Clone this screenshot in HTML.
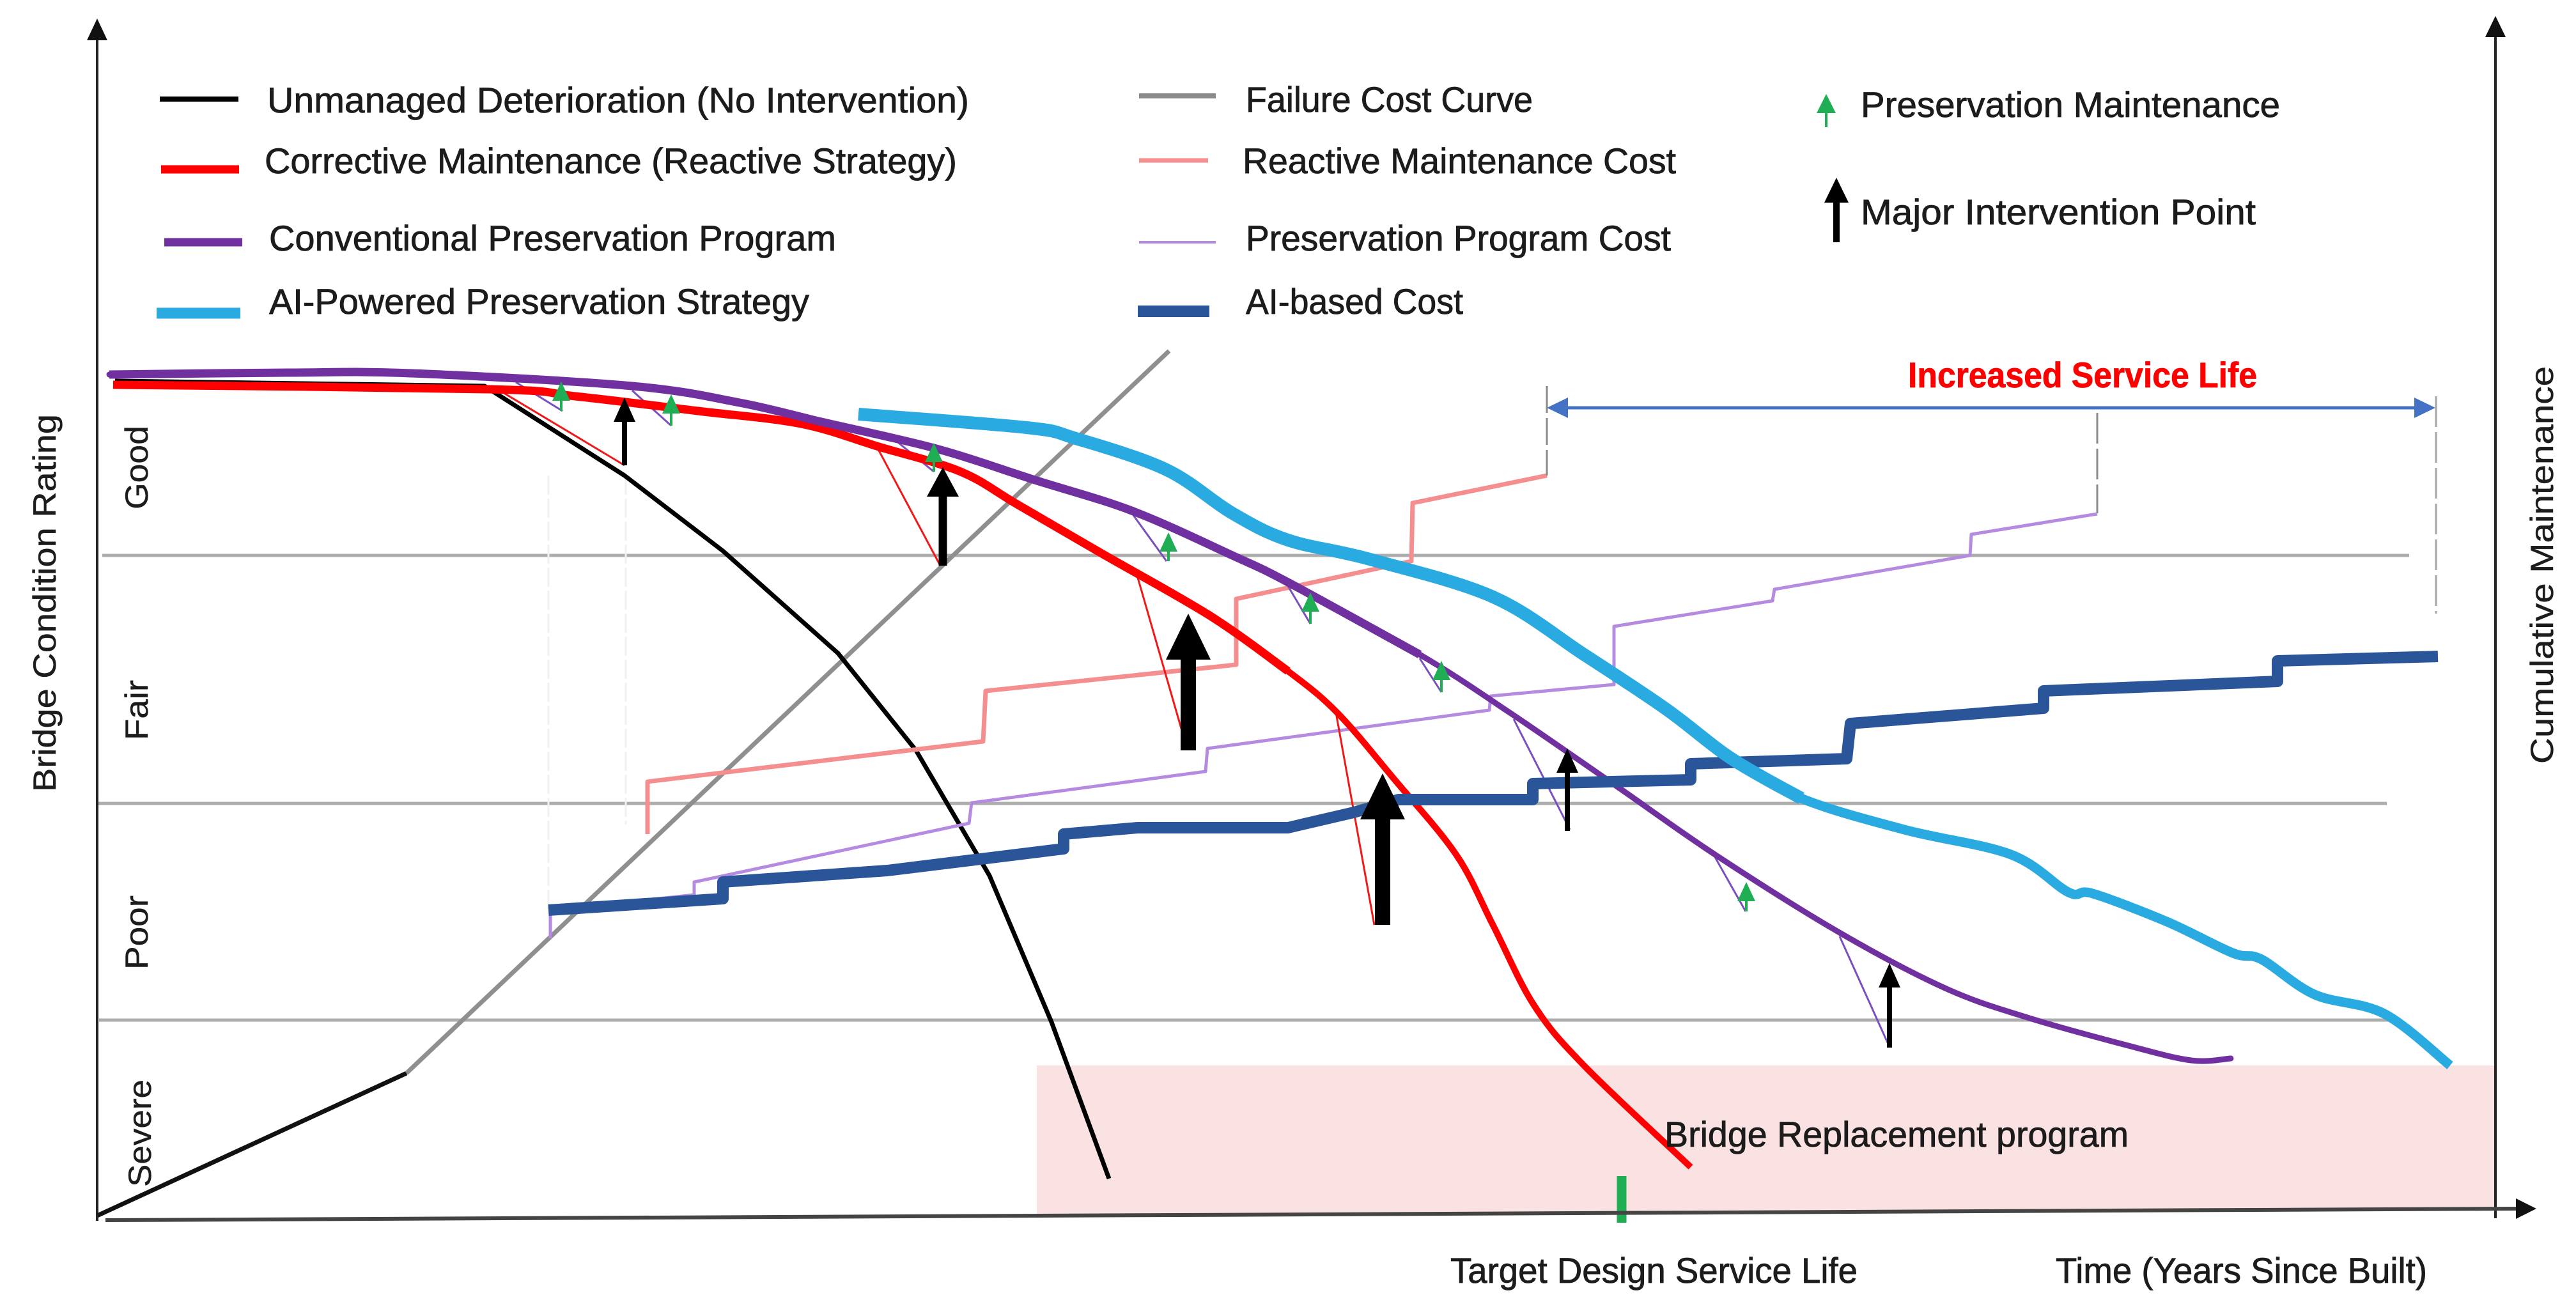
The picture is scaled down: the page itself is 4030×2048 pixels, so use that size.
<!DOCTYPE html>
<html lang="en">
<head>
<meta charset="utf-8">
<title>Bridge condition and cumulative maintenance over time</title>
<style>
  html, body { margin: 0; padding: 0; background: #fff; }
  svg { display: block; }
  text { font-family: "Liberation Sans", sans-serif; fill: #1c1c1c; stroke: #1c1c1c; stroke-width: 0.8px; font-size: 56px; }
  text.rotated { font-size: 50px; stroke-width: 0.4px; }
</style>
</head>
<body>
<svg id="chart" xmlns="http://www.w3.org/2000/svg" width="4030" height="2048" viewBox="0 0 4030 2048">
  <rect x="0" y="0" width="4030" height="2048" fill="#ffffff"/>
  <g id="marks"></g>

  <g>
    <line x1="152" y1="50" x2="152" y2="1910" stroke="#222" stroke-width="4"/>
    <polygon points="152,29 136,63 168,63" fill="#111"/>
    <line x1="3904" y1="50" x2="3904" y2="1906" stroke="#222" stroke-width="4"/>
    <polygon points="3904,25 3888,58 3920,58" fill="#111"/>
    <line x1="165" y1="1909" x2="3940" y2="1891" stroke="#444" stroke-width="6"/>
    <polygon points="3968,1891 3936,1875 3936,1907" fill="#111"/>
  </g>

  <g>
    <g>
      <line x1="250" y1="155" x2="373" y2="155" stroke="#000" stroke-width="8"/>
      <text x="418" y="176" textLength="1098" lengthAdjust="spacingAndGlyphs">Unmanaged Deterioration (No Intervention)</text>
    </g>
    <g>
      <line x1="252" y1="265" x2="374" y2="265" stroke="#ff0000" stroke-width="13"/>
      <text x="414" y="271" textLength="1083" lengthAdjust="spacingAndGlyphs">Corrective Maintenance (Reactive Strategy)</text>
    </g>
    <g>
      <line x1="257" y1="379" x2="379" y2="379" stroke="#7030a0" stroke-width="13"/>
      <text x="421" y="392" textLength="887" lengthAdjust="spacingAndGlyphs">Conventional Preservation Program</text>
    </g>
    <g>
      <line x1="245" y1="490" x2="376" y2="490" stroke="#29abe2" stroke-width="17"/>
      <text x="421" y="491" textLength="845" lengthAdjust="spacingAndGlyphs">AI-Powered Preservation Strategy</text>
    </g>
    <g>
      <line x1="1782" y1="150" x2="1902" y2="150" stroke="#8c8c8c" stroke-width="8"/>
      <text x="1949" y="175" textLength="449" lengthAdjust="spacingAndGlyphs">Failure Cost Curve</text>
    </g>
    <g>
      <line x1="1782" y1="251" x2="1890" y2="251" stroke="#f58e8e" stroke-width="7"/>
      <text x="1944" y="271" textLength="678" lengthAdjust="spacingAndGlyphs">Reactive Maintenance Cost</text>
    </g>
    <g>
      <line x1="1782" y1="379" x2="1902" y2="379" stroke="#b48be0" stroke-width="4"/>
      <text x="1949" y="392" textLength="665" lengthAdjust="spacingAndGlyphs">Preservation Program Cost</text>
    </g>
    <g>
      <line x1="1780" y1="487" x2="1892" y2="487" stroke="#2a5599" stroke-width="18"/>
      <text x="1949" y="491" textLength="340" lengthAdjust="spacingAndGlyphs">AI-based Cost</text>
    </g>
    <g>
      <polygon points="2857,147 2872,177 2859,177 2859,199 2855,199 2855,177 2842,177" fill="#1fae54"/>
      <text x="2911" y="183" textLength="656" lengthAdjust="spacingAndGlyphs">Preservation Maintenance</text>
    </g>
    <g>
      <polygon points="2873,278 2892,317 2878,317 2878,379 2868,379 2868,317 2854,317" fill="#000"/>
      <text x="2911" y="351" textLength="618" lengthAdjust="spacingAndGlyphs">Major Intervention Point</text>
    </g>
  </g>

  <g>
    <line x1="2420" y1="604" x2="2420" y2="744" stroke="#8a8a8a" stroke-width="3" stroke-dasharray="42 8"/>
    <line x1="3281" y1="646" x2="3281" y2="803" stroke="#8a8a8a" stroke-width="3" stroke-dasharray="48 8"/>
    <line x1="3811" y1="620" x2="3811" y2="960" stroke="#a5a5a5" stroke-width="3" stroke-dasharray="48 8"/>
    <line x1="2440" y1="638" x2="3790" y2="638" stroke="#4472c4" stroke-width="5"/>
    <polygon points="2420,638 2453,622 2453,654" fill="#4472c4"/>
    <polygon points="3810,638 3777,622 3777,654" fill="#4472c4"/>
    <text x="2985" y="606" textLength="546" lengthAdjust="spacingAndGlyphs" font-weight="700" style="fill:#ff0000;stroke:#ff0000">Increased Service Life</text>
  </g>

  <g>
    <text class="rotated" transform="translate(87,1239) rotate(-90)" textLength="591" lengthAdjust="spacingAndGlyphs">Bridge Condition Rating</text>
    <text class="rotated" transform="translate(3994,1195) rotate(-90)" textLength="622" lengthAdjust="spacingAndGlyphs">Cumulative Maintenance</text>
    <text class="rotated" transform="translate(231,797) rotate(-90)" textLength="131" lengthAdjust="spacingAndGlyphs">Good</text>
    <text class="rotated" transform="translate(231,1158) rotate(-90)" textLength="94" lengthAdjust="spacingAndGlyphs">Fair</text>
    <text class="rotated" transform="translate(231,1517) rotate(-90)" textLength="116" lengthAdjust="spacingAndGlyphs">Poor</text>
    <text class="rotated" transform="translate(236,1857) rotate(-90)" textLength="168" lengthAdjust="spacingAndGlyphs">Severe</text>
    <text x="2269" y="2007" textLength="637" lengthAdjust="spacingAndGlyphs">Target Design Service Life</text>
    <text x="3216" y="2007" textLength="581" lengthAdjust="spacingAndGlyphs">Time (Years Since Built)</text>
    <text x="2604" y="1794" textLength="726" lengthAdjust="spacingAndGlyphs">Bridge Replacement program</text>
  </g>
</svg>

<script>
// Schematic axes: time index along the x axis, rating / cost index along the y axis.
// Every series is a list of [time, value] readings.
const conditionBandLines = [[1, 104.1, 361.9], [0.2, 65.3, 358.4], [0.5, 31.4, 358.7]];
const replacementZone = [[147.2, 24.3], [375.4, 24.3], [375.4, 1.8], [147.2, 0.8]];
const targetDesignLife = [238.7, 7, -0.3];
const paleGuides = [[70.8, 116.6, 48], [82.9, 116.6, 62]];

const unmanaged = [[3, 131.4], [60.8, 130.6], [82.7, 116.6], [98.1, 104.8], [116.1, 88.8], [128.3, 73.6], [139.8, 54], [149.5, 31.1], [158.5, 6.6]];
const failureCostEarly = [[0.2, 0.8], [48.6, 23.1]];
const failureCostLate = [[48.6, 23.1], [167.9, 136.1]];
const corrective = [[2.7, 130.8], [61.5, 130.1], [75, 129], [94.2, 126.7], [110.3, 124.7], [122.5, 121.1], [135.3, 117.2], [144.3, 112], [157.2, 104.5], [174.4, 94.6], [186.5, 86], [194.2, 79.5], [203.2, 69], [212.8, 57.3], [218.6, 46.2], [225, 33.7], [232.8, 24.3], [249.5, 8.4]];
const conventional = [[2.1, 132.4], [30, 132.7], [49.3, 132.6], [83.9, 130.6], [100.7, 128], [113.5, 125], [131.5, 120.8], [146.9, 115.9], [162.3, 111], [177.8, 104.1], [186.5, 99.9], [207.1, 88.6], [221.2, 79.5], [237.9, 68], [253.3, 57.3], [272.6, 45.2], [289.3, 36.4], [302.2, 31.8], [317.6, 27.5], [327.8, 25.1], [334, 25.4]];
const aiPowered = [[119.3, 126.2], [145.6, 124.1], [153.3, 122.4], [167.5, 117.5], [177.8, 110.7], [186.5, 106.5], [199.3, 103.5], [218.6, 97.6], [232.8, 88.6], [245.6, 80.1], [255.9, 72.3], [266.8, 66.1], [282.9, 61.2], [299.6, 57.3], [308.6, 51.4], [312.4, 51.2], [324, 46.8], [334.3, 41.9], [338.8, 40.9], [347.1, 35.4], [358, 32.4], [368.3, 24.3]];

const reactiveCost = [[86.3, 60.5], [86.3, 68.7], [138.8, 75], [139.2, 82.9], [178.4, 87], [178.4, 97.3], [205.8, 103.2], [206, 112.3], [227, 116.6]];
const preservationCost = [[71.1, 44.2], [71.1, 48.6], [93.6, 51], [93.6, 53], [136.6, 62.2], [137, 65.4], [173.6, 70.3], [173.9, 73.9], [218, 79.9], [218.2, 82.1], [237.5, 83.9], [237.5, 93], [262.3, 97], [262.6, 98.8], [293.2, 104.1], [293.4, 107.4], [313.1, 110.6]];
const aiCost = [[70.8, 48.6], [98.1, 50.4], [98.1, 53], [123.8, 54.8], [151.4, 58.2], [151.4, 60.5], [163, 61.5], [186.5, 61.5], [196.8, 63.9], [203.8, 65.9], [224.8, 65.9], [224.8, 68.4], [249.5, 69], [249.5, 71.5], [273.9, 72.3], [274.5, 77.8], [304.7, 80.2], [304.7, 82.9], [341.3, 84.4], [341.3, 87.6], [366.4, 88.3]];

// Condition drops before a repair: [startTime, startValue, endTime, endValue]
const correctiveDrops = [[63, 130, 82.7, 118.2], [122.5, 120.5, 132.1, 102.5], [163, 100.6, 170.7, 73.9], [194, 79.5, 200, 46.3]];
const preservationDrops = [[65.7, 131.2, 73, 126.7], [83.9, 129.9, 90, 124.4], [125.1, 122.1, 131.1, 117.2], [162.3, 110.4, 167.5, 103.2], [186.5, 99.3, 190, 93.4], [207.1, 88, 210.5, 82.7], [221.8, 78.5, 230.6, 61.2], [253.3, 56.9, 258.1, 48.4], [272.8, 44.5, 280.6, 27.2]];

// Repairs: [time, valueBefore, valueAfter]
const preservationRepairs = [[72.8, 126.7, 131.3], [90, 124.4, 129.3], [131.1, 117.2, 121.7], [167.8, 103.2, 107.7], [190, 93.4, 98.3], [210.5, 82.7, 87.6], [258.2, 48.4, 53]];
const minorInterventions = [[82.7, 118.2, 128.8], [230.2, 61, 73.9], [280.6, 27.1, 40.3]];
const moderateInterventions = [[132.5, 102.5, 117.9]];
const heavyInterventions = [[170.9, 73.6, 95], [201.3, 46.3, 70]];

const NS = 'http://www.w3.org/2000/svg';
const marks = document.getElementById('marks');
const xAxis = t => 150 + t * 10;
const yAxis = v => 1910 - v * 10;

function add(tag, name, attrs) {
  const el = document.createElementNS(NS, tag);
  
  
  Object.keys(attrs).forEach(k => el.setAttribute(k, attrs[k]));
  marks.appendChild(el);
  return el;
}

function polyPath(pts) {
  return pts.map((p, i) => (i ? 'L' : 'M') + xAxis(p[0]).toFixed(1) + ' ' + yAxis(p[1]).toFixed(1)).join(' ');
}

function smoothPath(pts) {
  const P = pts.map(p => [xAxis(p[0]), yAxis(p[1])]);
  let d = 'M' + P[0][0].toFixed(1) + ' ' + P[0][1].toFixed(1);
  for (let i = 0; i < P.length - 1; i++) {
    const a = P[Math.max(i - 1, 0)], b = P[i], c = P[i + 1], e = P[Math.min(i + 2, P.length - 1)];
    const c1x = b[0] + (c[0] - a[0]) / 6, c1y = b[1] + (c[1] - a[1]) / 6;
    const c2x = c[0] - (e[0] - b[0]) / 6, c2y = c[1] - (e[1] - b[1]) / 6;
    d += ' C' + c1x.toFixed(1) + ' ' + c1y.toFixed(1) + ' ' + c2x.toFixed(1) + ' ' + c2y.toFixed(1) + ' ' + c[0].toFixed(1) + ' ' + c[1].toFixed(1);
  }
  return d;
}

function drawLine(name, d, color, width, cap) {
  add('path', name, { d: d, fill: 'none', stroke: color, 'stroke-width': width, 'stroke-linejoin': 'round', 'stroke-linecap': cap || 'butt' });
}

// Curves taper in the source: heavier stroke over the first part of each series.
function drawTapered(name, pts, splitCount, color, heavy, light, cap) {
  drawLine(name, smoothPath(pts), color, light, cap);
  drawLine(name + '-heavy-part', smoothPath(pts.slice(0, splitCount)), color, heavy, 'butt');
}

function drawArrow(name, item, color, headW, headL, shaft) {
  const x = xAxis(item[0]), base = yAxis(item[1]), tip = yAxis(item[2]);
  const n = tip + headL;
  const pts = [[x, tip], [x + headW / 2, n], [x + shaft / 2, n], [x + shaft / 2, base], [x - shaft / 2, base], [x - shaft / 2, n], [x - headW / 2, n]];
  add('polygon', name, { points: pts.map(p => p[0].toFixed(1) + ',' + p[1].toFixed(1)).join(' '), fill: color });
}

add('polygon', 'bridge-replacement-zone', { points: replacementZone.map(p => xAxis(p[0]) + ',' + yAxis(p[1])).join(' '), fill: '#fbe2e2' });

conditionBandLines.forEach((g, i) => {
  add('line', 'condition-band-line-' + (i + 1), { x1: xAxis(g[0]), x2: xAxis(g[2]), y1: yAxis(g[1]), y2: yAxis(g[1]), stroke: '#adadad', 'stroke-width': 5 });
});

paleGuides.forEach((g, i) => {
  add('line', 'pale-guide-' + (i + 1), { x1: xAxis(g[0]), x2: xAxis(g[0]), y1: yAxis(g[1]), y2: yAxis(g[2]), stroke: '#f1f1f1', 'stroke-width': 3, 'stroke-dasharray': '30 6' });
});

drawLine('failure-cost-curve-early', polyPath(failureCostEarly), '#111111', 7);
drawLine('failure-cost-curve', polyPath(failureCostLate), '#8f8f8f', 7);
drawLine('unmanaged-deterioration-line', polyPath(unmanaged), '#000000', 7);

drawLine('reactive-cost-line', polyPath(reactiveCost), '#f58e8e', 7);
drawLine('preservation-cost-line', polyPath(preservationCost), '#b48be0', 5);

correctiveDrops.forEach((s, i) => {
  drawLine('corrective-drop-' + (i + 1), polyPath([[s[0], s[1]], [s[2], s[3]]]), '#f01818', 3);
});
preservationDrops.forEach((s, i) => {
  drawLine('preservation-drop-' + (i + 1), polyPath([[s[0], s[1]], [s[2], s[3]]]), '#7a4fc0', 3);
});

drawTapered('corrective-maintenance-line', corrective, 11, '#ff0000', 13, 10);
drawTapered('conventional-preservation-line', conventional, 12, '#7030a0', 13, 9, 'round');
drawLine('ai-cost-line', polyPath(aiCost), '#2a5599', 18);
drawTapered('ai-preservation-line', aiPowered, 12, '#29abe2', 20, 15);

preservationRepairs.forEach((a, i) => {
  drawArrow('preservation-maintenance-arrow-' + (i + 1), a, '#1fae54', 28, 30, 4);
});
minorInterventions.forEach((a, i) => {
  drawArrow('minor-intervention-arrow-' + (i + 1), a, '#000000', 34, 38, 8);
});
moderateInterventions.forEach((a, i) => {
  drawArrow('moderate-intervention-arrow-' + (i + 1), a, '#000000', 50, 46, 13);
});
heavyInterventions.forEach((a, i) => {
  drawArrow('heavy-intervention-arrow-' + (i + 1), a, '#000000', 70, 72, 24);
});

add('line', 'target-design-life-tick', { x1: xAxis(targetDesignLife[0]), x2: xAxis(targetDesignLife[0]), y1: yAxis(targetDesignLife[1]), y2: yAxis(targetDesignLife[2]), stroke: '#1fae54', 'stroke-width': 15 });
</script>
</body>
</html>
